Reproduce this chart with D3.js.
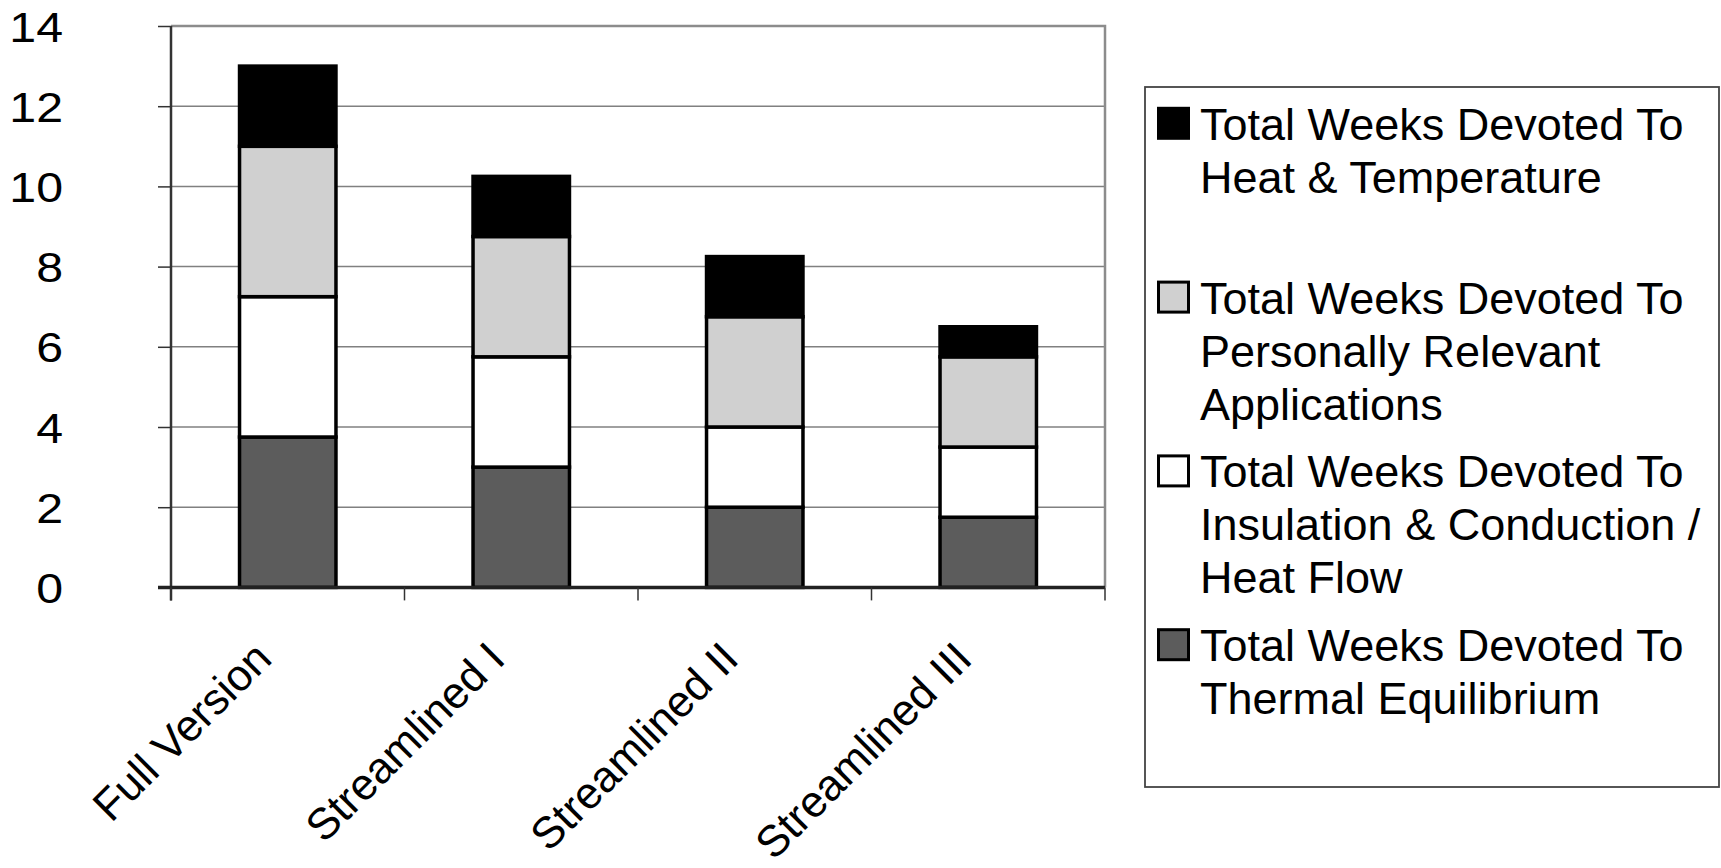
<!DOCTYPE html>
<head>
  <meta charset="utf-8">
  <script src="https://d3js.org/d3.v7.min.js"></script>
<style>
body { margin:0; background:#fff; }
text { font-family: "Liberation Sans", Arial, Helvetica, sans-serif; fill:#000; }
.grid line { stroke:#808080; stroke-width:1.5px; }
.seg { stroke:#000; stroke-width:3.5px; }
</style>
</head>

<body>
<script>
// data (weeks)
var categories = ["Full Version", "Streamlined I", "Streamlined II", "Streamlined III"];
var thermal    = [3.75, 3,    2,    1.75];
var insulation = [3.5,  2.75, 2,    1.75];
var personal   = [3.75, 3,    2.75, 2.25];
var heat       = [2,    1.5,  1.5,  0.75];
var yTicks = [0, 2, 4, 6, 8, 10, 12, 14];

// series, bottom of stack first
var keys = ["thermal", "insulation", "personal", "heat"];
var seriesValues = {thermal: thermal, insulation: insulation, personal: personal, heat: heat};
var labels = {
  heat: ["Total Weeks Devoted To", "Heat & Temperature"],
  personal: ["Total Weeks Devoted To", "Personally Relevant", "Applications"],
  insulation: ["Total Weeks Devoted To", "Insulation & Conduction /", "Heat Flow"],
  thermal: ["Total Weeks Devoted To", "Thermal Equilibrium"]
};
var colors = {heat: "#000", personal: "#d0d0d0", insulation: "#fff", thermal: "#5c5c5c"};

var W = 1721, H = 868;
var plot = {left: 171, right: 1105, top: 26, bottom: 587.4};

var svg = d3.select("body").append("svg")
    .attr("width", W)
    .attr("height", H);

// scales
var x = d3.scaleBand()
    .domain(categories)
    .range([plot.left, plot.right])
    .paddingInner(0.587)
    .paddingOuter(0.2935);

var y = d3.scaleLinear()
    .domain([0, 14])
    .range([plot.bottom, plot.top]);

// gridlines
svg.append("g")
    .attr("class", "grid")
  .selectAll("line")
  .data(yTicks.filter(d => d > 0 && d < 14))
  .enter().append("line")
    .attr("x1", plot.left)
    .attr("x2", plot.right)
    .attr("y1", d => y(d))
    .attr("y2", d => y(d));

// top and right frame (grey)
svg.append("path")
    .attr("d", "M" + plot.left + "," + y(14) + "H" + plot.right + "V" + y(0))
    .attr("fill", "none")
    .attr("stroke", "#8c8c8c")
    .attr("stroke-width", 2.5);

// stacked bars
var table = categories.map((c, i) => {
  var row = {cat: c};
  keys.forEach(k => { row[k] = seriesValues[k][i]; });
  return row;
});
var stack = d3.stack().keys(keys)(table);

svg.append("g")
  .selectAll("g")
  .data(stack)
  .enter().append("g")
    .attr("fill", d => colors[d.key])
  .selectAll("rect")
  .data(d => d)
  .enter().append("rect")
    .attr("class", "seg")
    .attr("x", d => x(d.data.cat))
    .attr("width", x.bandwidth())
    .attr("y", d => y(d[1]))
    .attr("height", d => y(d[0]) - y(d[1]));

// y axis
var yAxis = svg.append("g")
    .attr("transform", "translate(" + plot.left + ",0)")
    .call(d3.axisLeft(y).tickValues(yTicks).tickSize(13).tickSizeOuter(0).tickPadding(97.5));
yAxis.select(".domain").remove();
yAxis.selectAll(".tick line").attr("stroke", "#333").attr("stroke-width", 1.5);
yAxis.selectAll(".tick text")
    .attr("font-size", 42)
    .attr("font-family", null)
    .attr("x", 0)
    .attr("dy", "0.36em")
    .attr("transform", "translate(-108,0) scale(1.15,1)");

// left axis line runs down past the baseline to the first category tick
svg.append("line")
    .attr("x1", plot.left).attr("x2", plot.left)
    .attr("y1", y(14)).attr("y2", y(0) + 13)
    .attr("stroke", "#333")
    .attr("stroke-width", 2.5);

// x axis: baseline plus ticks between categories
svg.append("line")
    .attr("x1", plot.left - 13).attr("x2", plot.right)
    .attr("y1", y(0)).attr("y2", y(0))
    .attr("stroke", "#222")
    .attr("stroke-width", 3.5);

var bounds = d3.range(categories.length + 1).map(i => x.range()[0] + i * x.step());
svg.append("g")
  .selectAll("line")
  .data(bounds)
  .enter().append("line")
    .attr("x1", d => d).attr("x2", d => d)
    .attr("y1", y(0)).attr("y2", y(0) + 13)
    .attr("stroke", "#333")
    .attr("stroke-width", 1.5);

// rotated category labels
svg.append("g")
  .selectAll("text")
  .data(categories)
  .enter().append("text")
    .attr("font-size", 44)
    .attr("text-anchor", "end")
    .attr("transform", d => "translate(" + (x(d) + x.bandwidth() / 2 - 14) + ",661) rotate(-45)")
    .text(d => d);

// legend
var lg = {x: 1145, y: 87, w: 574, h: 700, first: 139.8, step: 173.8, line: 53};
svg.append("rect")
    .attr("x", lg.x).attr("y", lg.y)
    .attr("width", lg.w).attr("height", lg.h)
    .attr("fill", "none")
    .attr("stroke", "#444")
    .attr("stroke-width", 1.8);

var legendKeys = keys.slice().reverse();
var item = svg.append("g")
  .selectAll("g")
  .data(legendKeys)
  .enter().append("g")
    .attr("transform", (d, i) => "translate(0," + (lg.first + i * lg.step) + ")");

item.append("rect")
    .attr("x", 1158.5)
    .attr("y", -31.5)
    .attr("width", 30)
    .attr("height", 30)
    .attr("fill", d => colors[d])
    .attr("stroke", "#000")
    .attr("stroke-width", 3);

item.append("text")
    .attr("font-size", 45)
    .selectAll("tspan")
    .data(d => labels[d])
    .enter().append("tspan")
      .attr("x", 1200)
      .attr("y", (d, j) => j * lg.line)
      .text(d => d);
</script>
</body>
